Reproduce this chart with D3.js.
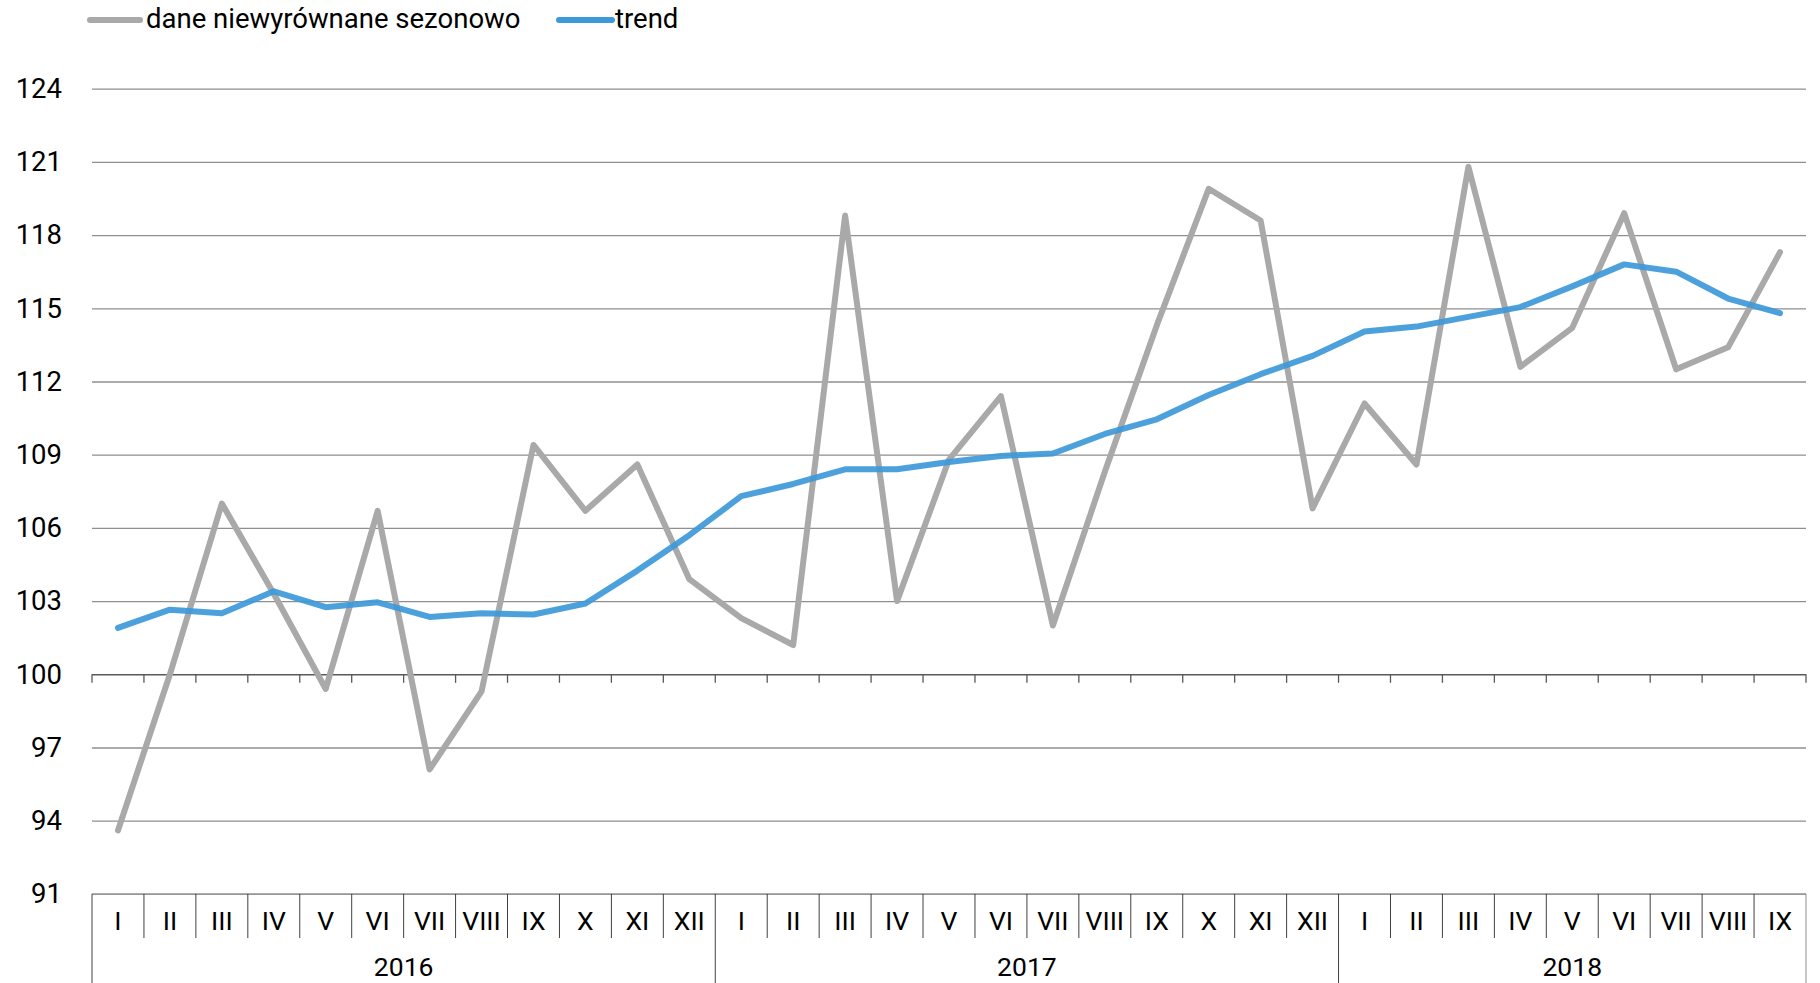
<!DOCTYPE html>
<html>
<head>
<meta charset="utf-8">
<script src="https://cdn.jsdelivr.net/npm/d3@7"></script>
<style>
  html, body { margin: 0; padding: 0; background: #fff; }
  svg { display: block; }
  text { font-family: Roboto, "Noto Sans", sans-serif; fill: #000; }
</style>
</head>
<body>
<script>
const years = ["2016", "2017", "2018"];
const monthsPerYear = [12, 12, 9];
const romanMonths = ["I","II","III","IV","V","VI","VII","VIII","IX","X","XI","XII"];
const yTicks = [91, 94, 97, 100, 103, 106, 109, 112, 115, 118, 121, 124];
const seriesNames = ["dane niewyrównane sezonowo", "trend"];

const seasonal = [
  93.6, 100.0, 107.0, 103.3, 99.4, 106.7, 96.1, 99.3, 109.4, 106.7, 108.6, 103.9,
  102.3, 101.2, 118.8, 103.0, 108.8, 111.4, 102.0, 108.3, 114.3, 119.9, 118.6, 106.8,
  111.1, 108.6, 120.8, 112.6, 114.2, 118.9, 112.5, 113.4, 117.3
];
const trend = [
  101.9, 102.65, 102.5, 103.4, 102.75, 102.95, 102.35, 102.5, 102.45, 102.9, 104.25, 105.7,
  107.3, 107.8, 108.4, 108.4, 108.7, 108.95, 109.05, 109.85, 110.45, 111.45, 112.3, 113.05,
  114.05, 114.25, 114.65, 115.05, 115.9, 116.8, 116.5, 115.4, 114.8
];

(function () {
const periods = [];
years.forEach((yv, yi) => {
  for (let m = 0; m < monthsPerYear[yi]; m++) periods.push({ year: yv, month: romanMonths[m], idx: periods.length });
});

const W = 1820, H = 983;
const pLeft = 92, pRight = 1806, pTop = 88.7, pBottom = 893.9;

const svg = d3.select("body").append("svg").attr("width", W).attr("height", H);
svg.append("rect").attr("width", W).attr("height", H).attr("fill", "#fff");

const x = d3.scaleBand().domain(periods.map(d => d.idx)).range([pLeft, pRight]).padding(0);
const y = d3.scaleLinear().domain([91, 124]).range([pBottom, pTop]);

// gridlines + y labels
const yAxis = d3.axisLeft(y).tickValues(yTicks).tickSize(-(pRight - pLeft)).tickPadding(30).tickFormat(d3.format("d"));
const gy = svg.append("g").attr("transform", `translate(${pLeft},0)`).call(yAxis);
gy.select(".domain").remove();
gy.selectAll(".tick line").attr("stroke", d => d === 100 ? "#595959" : "#8f8f8f").attr("stroke-width", d => d === 100 ? 1.6 : 1.3);
gy.selectAll(".tick text").attr("font-size", 27.5).attr("fill", "#000")
  .attr("font-family", "Roboto, 'Noto Sans', sans-serif");

// axis ticks at value 100 (band boundaries)
const boundaries = periods.map(d => x(d.idx)).concat([pRight]);
svg.append("g").selectAll("line").data(boundaries).join("line")
  .attr("x1", d => d).attr("x2", d => d)
  .attr("y1", y(100)).attr("y2", y(100) + 8.5)
  .attr("stroke", "#595959").attr("stroke-width", 1.3);

// category table at bottom
const tbl = svg.append("g");
tbl.append("line").attr("x1", pLeft).attr("x2", pRight).attr("y1", pBottom).attr("y2", pBottom)
  .attr("stroke", "#9a9a9a").attr("stroke-width", 1.5);
const yearStarts = new Set();
let acc = 0;
monthsPerYear.forEach(n => { yearStarts.add(acc); acc += n; });
yearStarts.add(acc);
tbl.selectAll("line.div").data(d3.range(periods.length + 1)).join("line").attr("class", "div")
  .attr("x1", i => i < periods.length ? x(i) : pRight)
  .attr("x2", i => i < periods.length ? x(i) : pRight)
  .attr("y1", pBottom)
  .attr("y2", i => yearStarts.has(i) ? H : 938)
  .attr("stroke", i => i === periods.length ? "#8f8f8f" : "#404040")
  .attr("stroke-width", 1);

tbl.selectAll("text.m").data(periods).join("text").attr("class", "m")
  .attr("x", d => x(d.idx) + x.bandwidth() / 2)
  .attr("y", 920.5).attr("dy", "0.36em")
  .attr("text-anchor", "middle").attr("font-size", 26.5)
  .text(d => d.month);

let start = 0;
years.forEach((yr, yi) => {
  const x0 = x(start), x1 = (start + monthsPerYear[yi] < periods.length) ? x(start + monthsPerYear[yi]) : pRight;
  tbl.append("text").attr("x", (x0 + x1) / 2).attr("y", 966).attr("dy", "0.36em")
    .attr("text-anchor", "middle").attr("font-size", 26.5).text(yr);
  start += monthsPerYear[yi];
});

// lines
const line = d3.line().x((d, i) => x(i) + x.bandwidth() / 2).y(d => y(d));
svg.append("path").datum(seasonal).attr("d", line)
  .attr("fill", "none").attr("stroke", "#a9a9a9").attr("stroke-width", 6)
  .attr("stroke-linejoin", "round").attr("stroke-linecap", "round");
svg.append("path").datum(trend).attr("d", line)
  .attr("fill", "none").attr("stroke", "#3d99d9").attr("stroke-opacity", 0.92).attr("stroke-width", 6)
  .attr("stroke-linejoin", "round").attr("stroke-linecap", "round");

// legend
const legend = [
  { name: seriesNames[0], color: "#a9a9a9", x0: 90, x1: 140, tx: 146 },
  { name: seriesNames[1], color: "#3d99d9", x0: 559, x1: 612, tx: 615 }
];
const lg = svg.append("g");
legend.forEach(l => {
  lg.append("line").attr("x1", l.x0).attr("x2", l.x1).attr("y1", 20).attr("y2", 20)
    .attr("stroke", l.color).attr("stroke-width", 6).attr("stroke-linecap", "round");
  lg.append("text").attr("x", l.tx).attr("y", 18.5).attr("dy", "0.36em")
    .attr("font-size", 27.5).text(l.name);
});
})();
</script>
</body>
</html>
